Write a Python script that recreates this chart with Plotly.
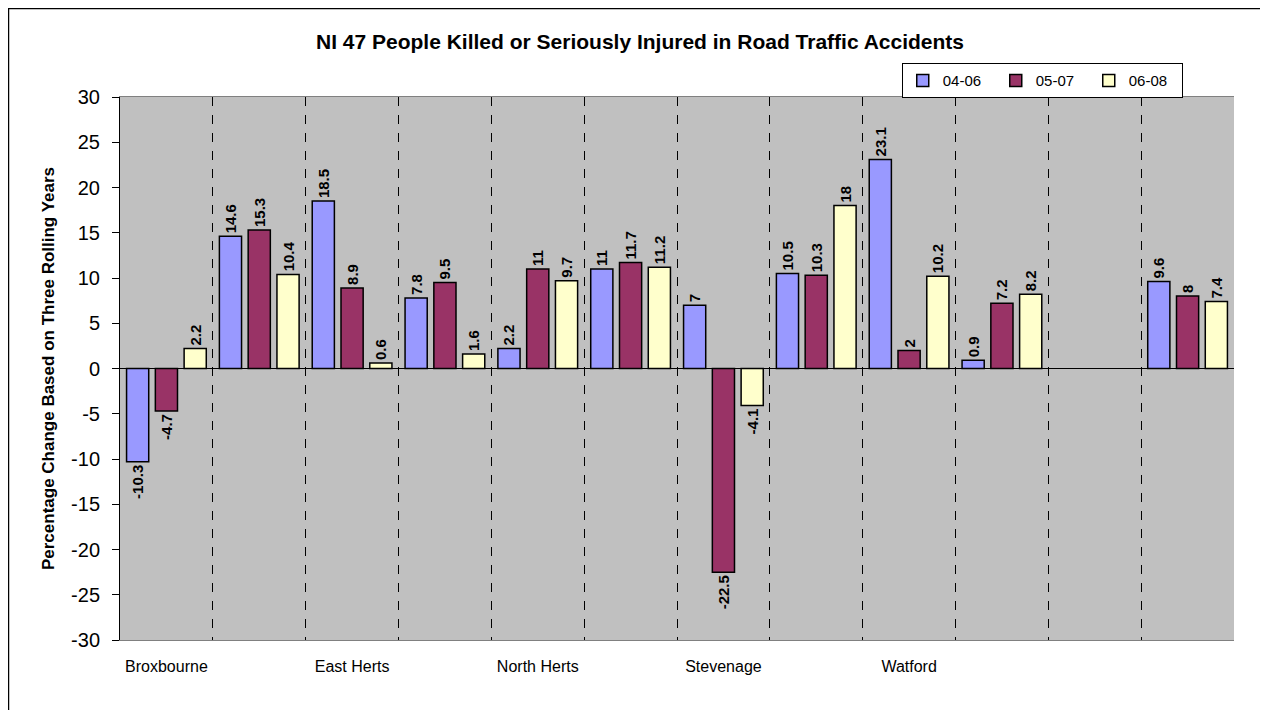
import plotly.graph_objects as go

categories = ["Broxbourne", "Dacorum", "East Herts", "Hertsmere", "North Herts",
              "St Albans", "Stevenage", "Three Rivers", "Watford", "Welwyn Hatfield",
              " ", "Hertfordshire"]
shown_labels = ["Broxbourne", "", "East Herts", "", "North Herts", "", "Stevenage",
                "", "Watford", "", "", ""]
series_names = ["04-06", "05-07", "06-08"]
v0406 = [-10.3, 14.6, 18.5, 7.8, 2.2, 11, 7, 10.5, 23.1, 0.9, None, 9.6]
v0507 = [-4.7, 15.3, 8.9, 9.5, 11, 11.7, -22.5, 10.3, 2, 7.2, None, 8]
v0608 = [2.2, 10.4, 0.6, 1.6, 9.7, 11.2, -4.1, 18, 10.2, 8.2, None, 7.4]
colors = ["#9999FF", "#993366", "#FFFFCC"]
y_ticks = list(range(-30, 31, 5))
y_ticktext = [str(v) for v in y_ticks]

FONT = "Arial, Liberation Sans, sans-serif"

fig = go.Figure()
for name, vals, col in zip(series_names, [v0406, v0507, v0608], colors):
    fig.add_trace(go.Bar(
        x=categories, y=vals, name=name,
        marker=dict(color=col, line=dict(color="black", width=1.5)),
        text=[("" if v is None else f"{v:g}") for v in vals],
        textposition="outside", textangle=-90, constraintext="none",
        textfont=dict(family=FONT, size=15, color="black", weight="bold"),
        cliponaxis=False,
    ))

fig.update_layout(
    width=1260, height=702,
    paper_bgcolor="white", plot_bgcolor="#C0C0C0",
    margin=dict(l=112, r=34, t=89, b=70),
    barmode="group", bargap=0.07, bargroupgap=0.23,
    font=dict(family=FONT, color="black"),
    title=dict(text="<b>NI 47 People Killed or Seriously Injured in Road Traffic Accidents</b>",
               x=0.5016, xanchor="center", y=0.9516, yanchor="middle",
               font=dict(family=FONT, size=21, color="black")),
    legend=dict(orientation="h", x=0.954, xanchor="right", y=1.03, yanchor="middle",
                bordercolor="black", borderwidth=1, bgcolor="white",
                font=dict(family=FONT, size=15, color="black"),
                itemwidth=30, entrywidth=48, tracegroupgap=0),
    showlegend=True,
)

fig.update_xaxes(
    type="category", categoryorder="array", categoryarray=categories,
    tickmode="array", tickvals=categories, ticktext=shown_labels,
    tickson="boundaries", showgrid=True, gridcolor="black", griddash="dash", gridwidth=1,
    ticks="", tickfont=dict(family=FONT, size=16, color="black"),
    showline=True, linecolor="#808080", linewidth=1, mirror=True,
    zeroline=False, ticklabelstandoff=12,
)
fig.update_yaxes(
    range=[-30, 30], tickmode="array", tickvals=y_ticks, ticktext=y_ticktext,
    tickfont=dict(family=FONT, size=20, color="black"),
    ticks="outside", ticklen=7, tickcolor="black", ticklabelstandoff=8,
    showgrid=False, zeroline=True, zerolinecolor="black", zerolinewidth=1,
    showline=True, linecolor="black", linewidth=1,
    title=dict(text="<b>Percentage Change Based on Three Rolling Years</b>",
               font=dict(family=FONT, size=17, color="black"), standoff=12),
)

fig.add_shape(type="rect", xref="paper", yref="paper",
              x0=-0.1001, x1=1.0287, y0=-0.2, y1=1.163,
              line=dict(color="black", width=1.5), fillcolor="rgba(0,0,0,0)", layer="below")

fig.write_html("out.html")
